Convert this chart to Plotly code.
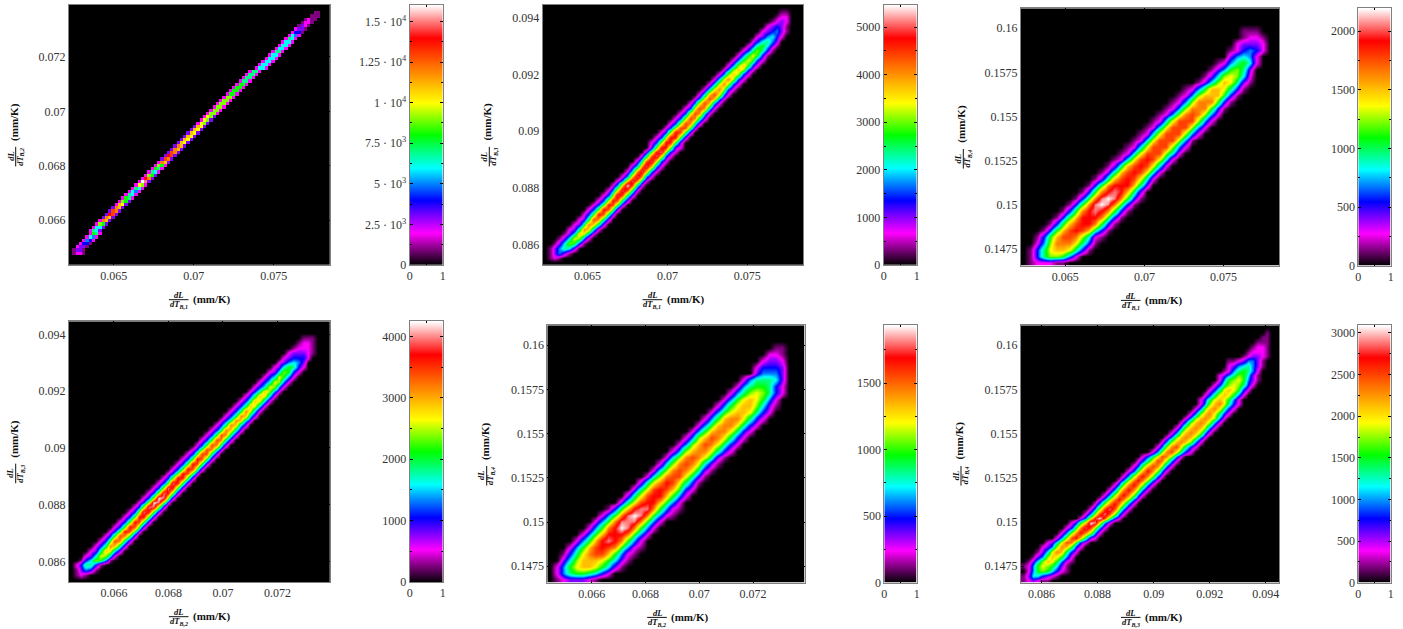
import plotly.graph_objects as go

W, H = 1403, 629
# axis ranges and ticks for the four quantities
R1 = [0.0622, 0.0785]; R2 = [0.06435, 0.07392]; R3 = [0.08527, 0.09447]; R4 = [0.14657, 0.16113]
T1 = [0.065, 0.07, 0.075]; T2 = [0.066, 0.068, 0.07, 0.072]
T3 = [0.086, 0.088, 0.09, 0.092, 0.094]; T4 = [0.1475, 0.15, 0.1525, 0.155, 0.1575, 0.16]
L1 = ["0.065", "0.07", "0.075"]; L2 = ["0.066", "0.068", "0.07", "0.072"]
L3 = ["0.086", "0.088", "0.09", "0.092", "0.094"]; L4 = ["0.1475", "0.15", "0.1525", "0.155", "0.1575", "0.16"]

# Histogram rows, bottom to top: [first column, level, level, ...]; levels are sixteenths of the colour-bar top
P1 = [[0], [0], [0],
 [1,1,2,2,1],[1,1,3,3,1],[2,2,3,3,1],[3,2,4,4,1],[4,2,5,4,2],[5,2,6,5,2],[6,2,8,7,2],[6,2,7,6,3],[7,2,6,6,3],[8,2,9,8,3],
 [9,2,12,11,3],[10,3,12,11,3],[11,3,14,13,3],[12,3,13,12,3],[13,3,12,11,3],[14,2,11,10,3],[15,2,9,8,3],[16,2,8,7,2],
 [17,2,7,6,2],[18,2,6,5,2],[19,2,7,6,2],[20,2,10,9,2],[21,2,16,15,3],[22,2,14,12,3],[23,2,9,8,3],[24,2,7,6,2],
 [25,2,8,7,2],[26,2,9,8,2],[27,2,12,11,3],[28,3,13,12,3],[29,3,14,13,3],[30,3,13,12,3],[31,3,12,11,3],[32,3,12,11,3],
 [33,3,11,10,3],[34,3,11,10,3],[35,3,11,10,3],[36,3,11,10,3],[37,3,11,10,3],[38,3,11,10,3],[39,2,10,9,3],[40,2,10,9,3],
 [41,2,10,9,3],[42,2,9,9,2],[43,2,9,9,2],[44,2,9,9,2],[45,2,9,9,2],[46,2,9,9,2],[47,2,9,9,2],[48,2,8,8,2],[49,2,8,8,2],
 [50,2,8,8,2],[51,2,8,8,2],[52,2,7,7,2],[53,2,7,7,2],[54,2,7,7,2],[55,2,7,7,2],[57,2,6,6,2],[58,2,6,6,2],[59,2,6,6,2],
 [60,2,6,6,2],[61,2,6,6,2],[62,2,7,7,2],[63,2,6,6,2],[64,2,6,6,2],[65,2,6,6,2],[66,2,7,6,2],[67,2,6,5,2],[68,2,4,4,1],
 [69,2,3,3,1],[70,1,3,2,1],[71,1,2,2,1],[72,1,2,1,1],[73,0,1,1,1],[74,0,1,1,0]]

P2 = [[0],[1,1,2,1],[1,1,3,5,3,1],[1,1,3,5,7,6,3],[2,1,3,6,9,8,4,1],[3,1,3,6,10,9,5,2],[4,1,3,6,11,10,6,2],
 [5,2,3,7,12,11,6,2],[6,2,3,7,12,11,7,3],[7,2,3,7,13,12,7,3],[8,2,4,8,14,13,7,3],[9,2,4,8,14,13,8,3],
 [10,2,4,8,14,13,8,3],[11,2,4,9,14,13,7,3],[12,2,4,9,15,13,7,3],[13,2,5,10,15,13,7,2],[14,2,5,11,16,13,6,2],
 [15,2,5,11,15,12,6,2],[16,2,5,11,15,12,5,2],[17,2,6,12,15,11,5,2],[18,3,6,12,15,11,5,2],[19,3,7,13,15,10,4,2],
 [20,3,7,13,15,10,4,2],[21,3,8,14,15,9,4,2],[22,3,8,14,14,9,3,2],[22,2,4,9,14,14,8,3],[23,2,4,9,14,14,8,3],
 [24,2,4,9,14,13,8,3],[25,2,4,9,13,13,8,3],[26,2,4,9,13,12,7,3],[27,2,4,9,13,12,7,3],[28,2,4,10,13,12,6,2],
 [29,2,4,10,13,12,6,2],[30,2,5,10,13,11,5,2],[31,2,5,10,13,11,5,2],[32,2,6,11,13,10,5,2],[33,2,6,10,12,9,4,2],
 [34,2,6,10,12,9,4,2],[35,2,6,10,12,9,4,2],[36,2,5,9,11,9,4,2],[37,2,5,9,11,9,4,2],[38,2,5,9,11,8,4,2],
 [39,2,5,8,10,8,4,2],[40,2,5,8,10,8,4,1],[41,2,4,7,9,7,4,1],[42,2,4,7,8,6,3,1],[43,2,4,6,7,5,3],[44,2,3,5,6,4,2],
 [45,2,3,4,5,3,1],[46,2,3,4,3,1],[47,1,2,3,2],[48,1,2,2],[49,1,1],[0]]

P3 = [[1,1,2,2,2,1,1],[1,1,4,7,9,9,8,5,2],[1,1,4,7,10,11,11,10,7,4,1],[2,2,5,9,12,12,12,10,7,4,1],
 [2,1,4,8,11,13,13,12,9,6,2,1],[3,1,4,8,11,13,14,13,11,7,4,1],[4,1,4,8,11,13,14,14,12,8,4,1],
 [5,1,4,8,11,14,14,14,12,8,4,1],[6,1,4,8,12,14,15,14,12,8,4,1],[7,1,4,8,12,15,16,15,12,8,4,1],
 [8,1,4,8,12,15,16,15,12,8,4,1],[9,1,4,8,12,14,15,14,11,7,3],[10,1,4,8,12,14,14,14,11,7,3],
 [11,1,3,7,11,13,14,13,10,6,2],[12,1,3,7,11,13,14,13,10,6,2],[13,1,3,7,11,13,14,13,10,6,2],
 [14,1,2,6,10,13,14,13,10,6,2],[15,1,2,6,10,13,13,13,9,6,2],[16,1,2,6,10,13,13,13,9,5,2],[17,1,2,6,10,13,13,13,9,5,1],
 [18,1,2,6,10,13,13,13,9,5,2],[19,1,2,6,10,13,13,13,9,5,2],[20,1,2,6,10,13,13,13,9,5,2],[21,1,2,5,9,12,13,12,9,5,2],
 [22,1,2,5,9,12,12,12,8,4,1],[23,1,2,5,9,12,12,12,8,4,1],[24,1,2,5,9,11,11,11,8,4,1],[25,1,2,5,8,11,11,10,7,4,1],
 [27,1,3,6,9,11,10,7,3,1],[28,1,3,6,9,10,9,6,2],[29,1,3,5,8,9,7,3],[30,1,2,5,7,8,6,2],[32,3,5,6,5,2],[32,1,2,4,5,4,2],
 [33,2,3,3,3,2],[34,1,2,2,1],[34,1,1,1]]

P4 = [[0],[1,1,2,1],[1,1,3,5,4,1],[1,2,4,7,7,4,1],[2,1,4,6,9,8,5,1],[3,2,3,6,10,9,6,2],[4,2,3,7,11,10,6,3],
 [5,2,4,7,12,11,7,3],[6,2,4,8,13,12,7,3],[7,2,4,8,13,12,8,3],[8,2,4,8,14,13,8,3],[9,2,4,8,14,13,8,3],
 [10,2,4,8,14,13,8,3],[11,2,4,8,14,14,8,3],[12,2,4,9,15,14,8,3],[13,2,4,9,15,15,9,3],[14,2,4,9,16,15,9,3],
 [15,2,4,9,16,15,9,3],[16,2,4,9,15,14,9,3],[17,2,4,9,15,14,8,3],[18,2,4,8,15,14,8,3],[19,2,4,8,14,14,8,3],
 [20,2,4,8,14,13,8,3],[21,2,4,8,14,13,8,3],[22,2,4,8,14,13,8,3],[23,2,4,8,14,13,8,3],[24,2,4,8,13,13,7,3],
 [25,2,4,8,13,12,7,3],[26,2,4,8,13,12,7,3],[27,2,4,8,13,12,7,3],[28,2,4,8,13,12,7,3],[29,2,4,7,12,11,7,3],
 [30,2,4,7,12,11,6,3],[31,2,4,7,12,11,6,3],[32,2,4,7,12,11,6,3],[33,2,4,7,12,10,6,2],[34,2,4,7,11,10,6,2],
 [35,2,4,7,11,10,6,2],[36,2,4,7,11,10,6,2],[37,2,4,7,11,9,5,2],[38,2,4,6,10,9,5,2],[39,2,4,6,10,9,5,2],
 [40,2,4,6,10,8,5,2],[41,2,3,6,9,8,4,2],[42,2,3,6,8,7,4,2],[43,2,3,5,6,5,3],[44,2,3,4,4,4,2],[45,2,3,3,3,2,1],
 [46,1,2,2,2,1],[47,1,2,2,1],[48,1,1,1],[0]]

P5 = [[1,1,2,3,3,3,2,1],[1,2,5,7,8,8,7,6,4,2],[1,2,5,8,10,11,11,10,8,6,3,1],[2,3,6,9,11,11,11,10,8,6,3,1],
 [2,1,4,7,10,12,13,13,11,8,5,2,1],[3,2,5,8,11,13,14,13,12,8,5,2,1],[4,2,5,8,11,14,15,14,12,8,5,2],
 [5,2,5,8,11,14,14,14,12,8,5,2],[6,2,5,8,12,14,16,15,12,8,5,2],[7,2,5,8,12,15,15,15,12,8,5,2],
 [8,2,5,8,12,15,16,15,12,8,5,2,1],[9,1,4,8,11,14,15,15,12,8,5,2,1],[11,3,7,10,13,14,14,11,8,5,2],
 [12,3,7,10,13,14,14,11,8,5,2],[13,3,7,10,13,14,13,11,8,4,2],[14,3,7,10,12,14,13,10,7,4,1],
 [15,2,6,9,12,13,13,10,7,4,1],[16,2,6,9,12,13,12,10,7,3,1],[17,2,6,9,12,13,12,10,6,3,1],
 [18,2,6,9,12,13,12,10,7,3,1],[19,2,5,9,11,12,12,10,7,4,2],[20,2,5,9,11,13,12,10,7,4,2],
 [21,2,5,9,11,13,12,10,7,4,2],[22,2,5,8,11,12,12,10,7,4,2],[23,2,5,8,11,12,12,10,7,4,2],
 [24,2,5,8,11,12,12,10,7,4,2],[25,2,5,8,10,11,11,10,7,4,2],[26,2,5,8,10,11,11,9,6,3,1],
 [27,2,5,8,10,11,10,8,5,2],[28,2,5,7,9,10,9,7,4,2],[29,2,5,7,8,8,7,4,2],[30,2,5,7,7,7,6,3],
 [32,3,5,5,5,3],[32,2,4,4,4,3],[33,2,3,3,2],[34,2,2,1],[35,1,1]]

P6 = [[0,1,2,3,2,1,1],[0,1,3,6,6,4,3,2,1],[1,2,5,8,9,8,6,4,2,1],[0,1,2,5,8,10,9,8,6,3,1],[1,1,3,6,9,11,10,8,5,2,1],
 [2,1,3,5,9,11,10,8,5,2],[3,1,3,6,10,12,11,7,4,2],[4,2,3,5,9,12,11,8,4,2],[5,2,3,6,10,13,12,8,4,2],
 [7,2,5,9,13,14,11,7,3,2],[8,2,5,9,12,14,12,9,5,2],[9,2,4,8,12,15,13,9,5,2],[10,2,4,8,11,16,15,10,5,2],
 [12,2,5,10,14,16,13,8,4,2],[13,2,5,9,13,15,13,9,5,2],[14,2,5,9,13,15,13,9,5,2],[15,2,5,9,12,14,12,9,5,2],
 [16,2,5,9,12,14,12,9,5,2],[17,2,5,9,12,14,12,9,5,2],[18,2,5,9,12,14,12,9,5,2],[19,2,5,9,12,14,12,9,5,2],
 [20,2,5,9,12,14,12,9,5,2],[21,2,5,9,12,14,12,9,5,2],[22,2,4,8,11,14,12,9,5,2],[23,2,4,8,11,13,12,9,5,2],
 [24,2,4,7,10,13,12,9,5,2],[25,2,4,7,10,13,12,9,5,2],[27,2,5,9,12,13,10,7,4,2],[28,2,5,9,12,13,10,7,4,2],
 [29,2,5,9,11,12,11,9,5,2],[30,2,5,9,11,12,11,9,5,2],[31,2,5,9,11,12,11,9,5,2],[32,2,5,9,11,12,11,9,5,2],
 [33,2,5,9,11,12,11,9,5,2],[34,2,5,9,11,12,11,9,5,2],[35,2,5,9,11,12,10,7,4,2],[36,2,5,9,11,12,10,7,4,2],
 [37,2,5,9,11,12,10,7,4,2],[37,2,4,7,10,11,10,8,5,2],[38,2,4,7,10,11,10,8,5,2],[39,2,4,7,10,11,10,8,4,2],
 [40,2,4,7,9,10,9,7,4,2],[41,2,5,8,9,10,8,5,3,1],[41,2,3,5,7,9,8,6,3,1],[42,1,2,5,7,8,7,5,2],[43,2,3,5,6,7,5,3,1],
 [43,1,1,2,3,5,5,3,1],[46,1,2,3,3,2,1],[47,1,2,2,2,1],[48,1,2,2,1],[49,1,1,1],[50,1,1],[51,1]]

PANELS = [P1, P2, P3, P4, P5, P6]
GRID = [80, 54, 40, 54, 40, 54]
SMOOTH = [False, "best", "best", "best", "best", "best"]
ZMAX = [16030, 5470, 2194, 4245, 1934, 3092]
XR = [R1, R1, R1, R2, R2, R3]; YR = [R2, R3, R4, R3, R4, R4]
XT = [T1, T1, T1, T2, T2, T3]; YT = [T2, T3, T4, T3, T4, T4]
XL = [L1, L1, L1, L2, L2, L3]; YL = [L2, L3, L4, L3, L4, L4]
XSUB = ["B,1", "B,1", "B,1", "B,2", "B,2", "B,3"]
YSUB = ["B,2", "B,3", "B,4", "B,3", "B,4", "B,4"]

# colour-bar ticks
CB_T = [[0,2500,5000,7500,10000,12500,15000], [0,1000,2000,3000,4000,5000], [0,500,1000,1500,2000],
        [0,1000,2000,3000,4000], [0,500,1000,1500], [0,500,1000,1500,2000,2500,3000]]
CB_L = [["0","2.5 · 10<sup>3</sup>","5 · 10<sup>3</sup>","7.5 · 10<sup>3</sup>","1 · 10<sup>4</sup>",
         "1.25 · 10<sup>4</sup>","1.5 · 10<sup>4</sup>"], None, None, None, None, None]
CB_M = [1250, 500, 250, 500, 250, 250]
LEVELS = list(range(17))

# layout, in pixels: heat left, right, top, bottom, bar left, bar right, y-label fraction x
BOX = [(69, 329.7, 4.7, 265, 409.7, 442.7, 15.7),
       (542.7, 803.3, 4.7, 265, 883.7, 916.7, 489.3),
       (1021, 1279, 8.3, 265.7, 1358.3, 1390.7, 963.3),
       (69, 329.7, 321.3, 582, 409.7, 442.7, 15.7),
       (547.3, 804.7, 325.3, 582.7, 884.3, 916.7, 486.7),
       (1021, 1279, 325.3, 582.7, 1358.3, 1390.7, 961)]

SCALE = [[0, "#000000"], [0.125, "#ff00ff"], [0.25, "#0000ff"], [0.375, "#00ffff"], [0.5, "#00ff00"],
         [0.625, "#ffff00"], [0.875, "#ff0000"], [1, "#ffffff"]]
FONT = "Liberation Serif"
TXT = "#333333"; FRAME = "#808080"
px = lambda v: v / W
py = lambda v: 1 - v / H

fig = go.Figure()
layout = {}
ann = []
shapes = []

def note(text, x, y, size, style, angle=0):
    ann.append(dict(text=text, x=px(x), y=py(y), xref="paper", yref="paper", showarrow=False, xanchor="center",
                    yanchor="middle", textangle=angle, borderpad=0,
                    font=dict(family=FONT, size=size, color="#111111", weight="bold", style=style)))

for i, rows in enumerate(PANELS):
    n = GRID[i]
    z = []
    for row in rows:
        line = [0] * n
        for k, v in enumerate(row[1:]):
            line[row[0] + k] = v * ZMAX[i] / 16
        z.append(line)
    while len(z) < n:
        z.append([0] * n)
    dx = (XR[i][1] - XR[i][0]) / n
    dy = (YR[i][1] - YR[i][0]) / n
    a = 2 * i + 1
    b = 2 * i + 2
    fig.add_trace(go.Heatmap(z=z, x0=XR[i][0] + dx / 2, dx=dx, y0=YR[i][0] + dy / 2, dy=dy, zmin=0, zmax=ZMAX[i],
                             colorscale=SCALE, showscale=False, zsmooth=SMOOTH[i], hoverinfo="skip",
                             xaxis=f"x{a}", yaxis=f"y{a}"))
    lv = [l * ZMAX[i] / 16 for l in LEVELS]
    fig.add_trace(go.Heatmap(z=[[v, v] for v in lv], x=[0, 1], y=lv, zmin=0, zmax=ZMAX[i], colorscale=SCALE,
                             showscale=False, zsmooth="best", hoverinfo="skip", xaxis=f"x{b}", yaxis=f"y{b}"))
    l, r, t, bt, cl, cr, yf = BOX[i]
    tick = dict(tickfont=dict(family=FONT, size=12, color=TXT), showgrid=False, zeroline=False, showline=True,
                linecolor=FRAME, linewidth=1, mirror="ticks", ticks="inside", ticklen=3, tickcolor="#000000", tickwidth=1,
                automargin=False)
    layout[f"xaxis{a}"] = dict(domain=[px(l), px(r)], range=XR[i], anchor=f"y{a}", tickmode="array",
                               tickvals=XT[i], ticktext=XL[i], **tick)
    layout[f"yaxis{a}"] = dict(domain=[py(bt), py(t)], range=YR[i], anchor=f"x{a}", tickmode="array",
                               tickvals=YT[i], ticktext=YL[i], **tick)
    layout[f"xaxis{b}"] = dict(domain=[px(cl), px(cr)], range=[0, 1], anchor=f"y{b}", tickmode="array",
                               tickvals=[0, 1], ticktext=["0", "1"],
                               minor=dict(tickvals=[0.5], ticks="inside", ticklen=2, tickcolor="#000000"), **tick)
    ymin = dict(dtick=CB_M[i], ticks="inside", ticklen=2, tickcolor="#000000", showgrid=False)
    ytxt = CB_L[i] if CB_L[i] else [str(v) for v in CB_T[i]]
    layout[f"yaxis{b}"] = dict(domain=[py(bt), py(t)], range=[0, ZMAX[i]], anchor=f"x{b}", tickmode="array",
                               tickvals=CB_T[i], ticktext=ytxt, minor=ymin, **tick)
    # x label
    xb = l + 109.7
    yb = bt + 34.7
    note("dL", xb, yb - 4.8, 8.5, "italic")
    note(f"dT<sub>{XSUB[i]}</sub>", xb, yb + 4.8, 8.5, "italic")
    note("(mm/K)", xb + 33.3, yb, 11, "normal")
    shapes.append(dict(type="line", xref="paper", yref="paper", x0=px(xb - 9.8), x1=px(xb + 9.8), y0=py(yb), y1=py(yb),
                       line=dict(color="#111111", width=1)))
    # y label
    yc = (t + bt) / 2
    note("dL", yf - 5.5, yc + 21.8, 8.5, "italic", -90)
    note(f"dT<sub>{YSUB[i]}</sub>", yf + 4.5, yc + 21.8, 8.5, "italic", -90)
    note("(mm/K)", yf - 1.4, yc - 13.2, 11, "normal", -90)
    shapes.append(dict(type="line", xref="paper", yref="paper", x0=px(yf), x1=px(yf), y0=py(yc + 12), y1=py(yc + 31.6),
                       line=dict(color="#111111", width=1)))

fig.update_layout(width=W, height=H, margin=dict(l=0, r=0, t=0, b=0), paper_bgcolor="#ffffff", plot_bgcolor="#ffffff",
                  autosize=False, showlegend=False, annotations=ann, shapes=shapes, **layout)
fig.write_html("out.html", config={"displayModeBar": False},
               post_script="document.body.style.margin='0';document.body.style.overflow='hidden';")
